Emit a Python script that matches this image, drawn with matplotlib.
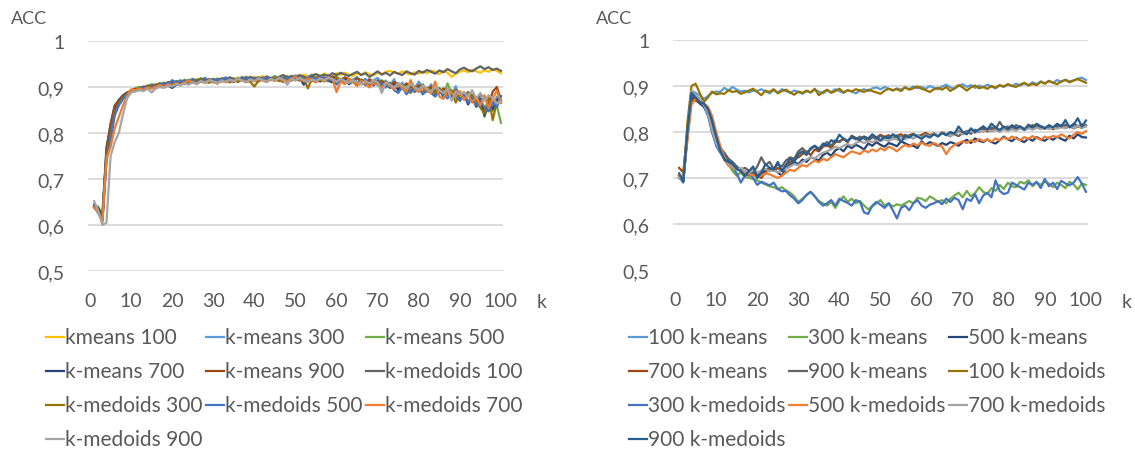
import matplotlib
matplotlib.use("Agg")
import matplotlib.pyplot as plt
from matplotlib.lines import Line2D
from matplotlib.ticker import FuncFormatter

plt.rcParams['font.family'] = ['Lato', 'DejaVu Sans']

k = list(range(1, 101))

# ---- left chart ----
left_labels = ["kmeans 100", "k-means 300", "k-means 500", "k-means 700", "k-means 900",
               "k-medoids 100", "k-medoids 300", "k-medoids 500", "k-medoids 700", "k-medoids 900"]
left_colors = ["#FFC000", "#5B9BD5", "#70AD47", "#264478", "#9E480E",
               "#636363", "#997300", "#4472C4", "#ED7D31", "#A5A5A5"]

kmeans_100 = [
    0.645, 0.632, 0.612, 0.760, 0.805, 0.850, 0.868, 0.880, 0.888, 0.893,
    0.896, 0.899, 0.897, 0.903, 0.901, 0.906, 0.904, 0.910, 0.907, 0.911,
    0.909, 0.913, 0.910, 0.916, 0.912, 0.918, 0.914, 0.908, 0.917, 0.913,
    0.919, 0.915, 0.912, 0.920, 0.916, 0.921, 0.917, 0.923, 0.918, 0.922,
    0.919, 0.924, 0.920, 0.917, 0.923, 0.921, 0.926, 0.922, 0.919, 0.925,
    0.922, 0.927, 0.924, 0.921, 0.928, 0.924, 0.929, 0.925, 0.922, 0.930,
    0.926, 0.931, 0.927, 0.924, 0.930, 0.926, 0.932, 0.928, 0.925, 0.931,
    0.928, 0.933, 0.935, 0.931, 0.929, 0.934, 0.930, 0.927, 0.932, 0.929,
    0.934, 0.930, 0.936, 0.933, 0.928, 0.935, 0.931, 0.922, 0.929, 0.933,
    0.936, 0.932, 0.938, 0.934, 0.931, 0.937, 0.933, 0.939, 0.935, 0.930]
kmeans_300 = [
    0.640, 0.625, 0.610, 0.745, 0.790, 0.845, 0.865, 0.875, 0.885, 0.893,
    0.895, 0.897, 0.900, 0.898, 0.902, 0.905, 0.903, 0.908, 0.905, 0.912,
    0.910, 0.915, 0.908, 0.914, 0.918, 0.912, 0.916, 0.920, 0.914, 0.918,
    0.912, 0.917, 0.921, 0.915, 0.919, 0.914, 0.922, 0.918, 0.913, 0.920,
    0.916, 0.921, 0.915, 0.919, 0.924, 0.917, 0.913, 0.922, 0.918, 0.925,
    0.919, 0.914, 0.922, 0.927, 0.916, 0.921, 0.913, 0.925, 0.918, 0.922,
    0.914, 0.920, 0.908, 0.916, 0.922, 0.911, 0.918, 0.906, 0.915, 0.920,
    0.908, 0.914, 0.902, 0.917, 0.894, 0.910, 0.887, 0.905, 0.896, 0.912,
    0.899, 0.891, 0.906, 0.884, 0.898, 0.877, 0.893, 0.881, 0.902, 0.872,
    0.889, 0.866, 0.884, 0.859, 0.877, 0.848, 0.871, 0.856, 0.879, 0.868]
kmeans_500 = [
    0.642, 0.640, 0.618, 0.770, 0.815, 0.852, 0.868, 0.879, 0.887, 0.892,
    0.897, 0.900, 0.898, 0.903, 0.906, 0.904, 0.909, 0.906, 0.911, 0.909,
    0.913, 0.910, 0.916, 0.912, 0.909, 0.915, 0.919, 0.913, 0.917, 0.912,
    0.918, 0.914, 0.920, 0.916, 0.912, 0.919, 0.915, 0.921, 0.917, 0.913,
    0.920, 0.916, 0.911, 0.918, 0.922, 0.915, 0.919, 0.924, 0.917, 0.921,
    0.916, 0.923, 0.918, 0.913, 0.920, 0.925, 0.917, 0.912, 0.919, 0.923,
    0.915, 0.909, 0.918, 0.912, 0.905, 0.916, 0.910, 0.902, 0.913, 0.907,
    0.915, 0.903, 0.910, 0.898, 0.908, 0.895, 0.905, 0.891, 0.901, 0.896,
    0.906, 0.892, 0.900, 0.887, 0.896, 0.882, 0.908, 0.885, 0.894, 0.873,
    0.888, 0.865, 0.881, 0.858, 0.872, 0.835, 0.866, 0.848, 0.860, 0.822]
kmeans_700 = [
    0.640, 0.636, 0.620, 0.765, 0.820, 0.858, 0.872, 0.882, 0.888, 0.890,
    0.893, 0.896, 0.899, 0.897, 0.901, 0.904, 0.900, 0.906, 0.903, 0.898,
    0.905, 0.910, 0.907, 0.912, 0.909, 0.914, 0.911, 0.916, 0.913, 0.910,
    0.915, 0.912, 0.917, 0.914, 0.911, 0.918, 0.915, 0.920, 0.916, 0.913,
    0.919, 0.915, 0.921, 0.917, 0.914, 0.920, 0.916, 0.922, 0.918, 0.915,
    0.921, 0.905, 0.918, 0.923, 0.916, 0.912, 0.920, 0.914, 0.910, 0.917,
    0.911, 0.918, 0.906, 0.913, 0.909, 0.916, 0.904, 0.912, 0.908, 0.914,
    0.903, 0.911, 0.898, 0.907, 0.893, 0.904, 0.896, 0.889, 0.900, 0.893,
    0.903, 0.890, 0.898, 0.884, 0.894, 0.880, 0.891, 0.876, 0.889, 0.870,
    0.885, 0.862, 0.880, 0.857, 0.874, 0.838, 0.865, 0.852, 0.871, 0.880]
kmeans_900 = [
    0.642, 0.634, 0.612, 0.760, 0.818, 0.860, 0.870, 0.880, 0.887, 0.892,
    0.896, 0.894, 0.899, 0.902, 0.900, 0.905, 0.903, 0.908, 0.905, 0.910,
    0.907, 0.912, 0.909, 0.914, 0.911, 0.908, 0.915, 0.912, 0.917, 0.913,
    0.910, 0.916, 0.913, 0.918, 0.915, 0.911, 0.917, 0.914, 0.919, 0.916,
    0.912, 0.918, 0.915, 0.920, 0.917, 0.913, 0.919, 0.916, 0.921, 0.918,
    0.914, 0.920, 0.917, 0.922, 0.918, 0.915, 0.921, 0.917, 0.923, 0.919,
    0.915, 0.921, 0.917, 0.912, 0.919, 0.914, 0.909, 0.917, 0.911, 0.906,
    0.913, 0.908, 0.903, 0.911, 0.905, 0.899, 0.908, 0.901, 0.895, 0.904,
    0.898, 0.892, 0.901, 0.894, 0.887, 0.897, 0.890, 0.883, 0.893, 0.886,
    0.878, 0.889, 0.881, 0.870, 0.884, 0.875, 0.862, 0.890, 0.900, 0.870]
kmedoids_100 = [
    0.638, 0.628, 0.615, 0.750, 0.800, 0.848, 0.866, 0.878, 0.886, 0.891,
    0.894, 0.898, 0.901, 0.899, 0.904, 0.902, 0.907, 0.905, 0.910, 0.908,
    0.912, 0.909, 0.914, 0.911, 0.916, 0.913, 0.918, 0.915, 0.911, 0.917,
    0.914, 0.919, 0.916, 0.921, 0.917, 0.914, 0.920, 0.917, 0.922, 0.918,
    0.921, 0.917, 0.923, 0.919, 0.916, 0.922, 0.926, 0.920, 0.924, 0.921,
    0.926, 0.922, 0.919, 0.925, 0.928, 0.923, 0.927, 0.924, 0.930, 0.926,
    0.931, 0.927, 0.924, 0.929, 0.933, 0.926, 0.930, 0.922, 0.928, 0.934,
    0.927, 0.931, 0.925, 0.933, 0.929, 0.926, 0.934, 0.930, 0.927, 0.935,
    0.931, 0.937, 0.933, 0.929, 0.936, 0.932, 0.939, 0.934, 0.930, 0.938,
    0.942, 0.937, 0.934, 0.940, 0.945, 0.939, 0.943, 0.937, 0.940, 0.935]
kmedoids_300 = [
    0.640, 0.630, 0.608, 0.748, 0.792, 0.842, 0.862, 0.876, 0.885, 0.890,
    0.893, 0.896, 0.894, 0.899, 0.902, 0.899, 0.904, 0.902, 0.907, 0.904,
    0.909, 0.906, 0.911, 0.908, 0.913, 0.910, 0.915, 0.912, 0.909, 0.914,
    0.911, 0.916, 0.913, 0.910, 0.915, 0.912, 0.917, 0.914, 0.911, 0.901,
    0.914, 0.918, 0.913, 0.916, 0.920, 0.915, 0.911, 0.918, 0.914, 0.919,
    0.915, 0.920, 0.897, 0.917, 0.921, 0.916, 0.912, 0.919, 0.915, 0.920,
    0.914, 0.909, 0.917, 0.912, 0.907, 0.915, 0.910, 0.904, 0.913, 0.908,
    0.902, 0.911, 0.906, 0.899, 0.908, 0.903, 0.896, 0.887, 0.901, 0.895,
    0.889, 0.899, 0.893, 0.885, 0.897, 0.890, 0.882, 0.893, 0.866, 0.887,
    0.876, 0.888, 0.880, 0.869, 0.855, 0.842, 0.878, 0.828, 0.867, 0.872]
kmedoids_500 = [
    0.645, 0.628, 0.610, 0.740, 0.785, 0.838, 0.860, 0.873, 0.884, 0.889,
    0.892, 0.895, 0.898, 0.896, 0.901, 0.899, 0.904, 0.909, 0.906, 0.915,
    0.908, 0.913, 0.910, 0.915, 0.912, 0.909, 0.914, 0.911, 0.916, 0.913,
    0.917, 0.914, 0.920, 0.915, 0.912, 0.918, 0.915, 0.921, 0.917, 0.914,
    0.919, 0.916, 0.921, 0.918, 0.914, 0.920, 0.917, 0.922, 0.918, 0.915,
    0.921, 0.917, 0.913, 0.920, 0.916, 0.922, 0.918, 0.914, 0.920, 0.905,
    0.918, 0.913, 0.909, 0.916, 0.911, 0.906, 0.914, 0.908, 0.903, 0.911,
    0.905, 0.899, 0.908, 0.893, 0.887, 0.900, 0.884, 0.895, 0.889, 0.898,
    0.884, 0.893, 0.887, 0.879, 0.891, 0.883, 0.875, 0.888, 0.880, 0.871,
    0.884, 0.866, 0.876, 0.860, 0.871, 0.855, 0.847, 0.868, 0.856, 0.880]
kmedoids_700 = [
    0.638, 0.628, 0.606, 0.745, 0.770, 0.810, 0.835, 0.860, 0.880, 0.895,
    0.893, 0.897, 0.894, 0.899, 0.896, 0.901, 0.904, 0.900, 0.906, 0.903,
    0.908, 0.905, 0.910, 0.914, 0.910, 0.906, 0.913, 0.909, 0.915, 0.911,
    0.907, 0.914, 0.910, 0.916, 0.912, 0.918, 0.914, 0.910, 0.916, 0.912,
    0.918, 0.914, 0.911, 0.917, 0.913, 0.919, 0.915, 0.912, 0.918, 0.922,
    0.917, 0.913, 0.919, 0.914, 0.910, 0.918, 0.913, 0.920, 0.916, 0.889,
    0.912, 0.906, 0.918, 0.910, 0.902, 0.913, 0.907, 0.899, 0.910, 0.904,
    0.898, 0.910, 0.902, 0.895, 0.906, 0.898, 0.890, 0.915, 0.897, 0.889,
    0.900, 0.893, 0.886, 0.912, 0.879, 0.874, 0.895, 0.887, 0.880, 0.891,
    0.872, 0.884, 0.866, 0.878, 0.860, 0.882, 0.854, 0.875, 0.892, 0.865]
kmedoids_900 = [
    0.652, 0.630, 0.600, 0.605, 0.750, 0.780, 0.800, 0.840, 0.875, 0.888,
    0.890, 0.893, 0.891, 0.896, 0.888, 0.897, 0.900, 0.898, 0.903, 0.901,
    0.906, 0.903, 0.908, 0.905, 0.910, 0.907, 0.913, 0.909, 0.915, 0.912,
    0.909, 0.914, 0.911, 0.916, 0.913, 0.918, 0.914, 0.911, 0.917, 0.913,
    0.919, 0.915, 0.912, 0.918, 0.914, 0.920, 0.916, 0.905, 0.918, 0.914,
    0.920, 0.915, 0.911, 0.917, 0.913, 0.919, 0.915, 0.921, 0.917, 0.912,
    0.918, 0.913, 0.909, 0.915, 0.910, 0.906, 0.913, 0.908, 0.915, 0.911,
    0.887, 0.910, 0.905, 0.899, 0.908, 0.903, 0.897, 0.906, 0.899, 0.894,
    0.903, 0.896, 0.890, 0.899, 0.893, 0.887, 0.896, 0.870, 0.891, 0.884,
    0.888, 0.880, 0.893, 0.875, 0.887, 0.870, 0.882, 0.876, 0.864, 0.870]

left_series = [kmeans_100, kmeans_300, kmeans_500, kmeans_700, kmeans_900,
               kmedoids_100, kmedoids_300, kmedoids_500, kmedoids_700, kmedoids_900]

# ---- right chart ----
right_labels = ["100 k-means", "300 k-means", "500 k-means", "700 k-means", "900 k-means",
                "100 k-medoids", "300 k-medoids", "500 k-medoids", "700 k-medoids", "900 k-medoids"]
right_colors = ["#5B9BD5", "#70AD47", "#264478", "#9E480E", "#636363",
                "#997300", "#4472C4", "#ED7D31", "#A5A5A5", "#255E91"]

r_kmeans_100 = [
    0.700, 0.695, 0.800, 0.890, 0.885, 0.880, 0.872, 0.878, 0.885, 0.888,
    0.887, 0.896, 0.890, 0.898, 0.892, 0.888, 0.890, 0.886, 0.890, 0.889,
    0.893, 0.888, 0.884, 0.891, 0.886, 0.893, 0.889, 0.885, 0.890, 0.887,
    0.883, 0.889, 0.886, 0.892, 0.888, 0.884, 0.890, 0.887, 0.893, 0.889,
    0.885, 0.891, 0.888, 0.884, 0.890, 0.893, 0.889, 0.895, 0.897, 0.893,
    0.898, 0.894, 0.890, 0.895, 0.892, 0.897, 0.893, 0.899, 0.895, 0.898,
    0.894, 0.900, 0.896, 0.893, 0.899, 0.903, 0.897, 0.894, 0.900, 0.904,
    0.898, 0.902, 0.896, 0.901, 0.897, 0.903, 0.899, 0.895, 0.901, 0.898,
    0.903, 0.900, 0.905, 0.901, 0.906, 0.902, 0.908, 0.904, 0.910, 0.906,
    0.911, 0.907, 0.913, 0.909, 0.914, 0.910, 0.912, 0.916, 0.918, 0.913]
r_kmeans_300 = [
    0.700, 0.692, 0.790, 0.870, 0.880, 0.870, 0.855, 0.840, 0.810, 0.780,
    0.760, 0.745, 0.730, 0.715, 0.705, 0.712, 0.702, 0.700, 0.698, 0.695,
    0.690, 0.686, 0.682, 0.680, 0.676, 0.680, 0.673, 0.668, 0.660, 0.648,
    0.655, 0.662, 0.670, 0.660, 0.650, 0.645, 0.640, 0.648, 0.635, 0.650,
    0.660, 0.648, 0.655, 0.645, 0.650, 0.640, 0.632, 0.638, 0.645, 0.652,
    0.640, 0.645, 0.638, 0.643, 0.640, 0.645, 0.650, 0.645, 0.657, 0.655,
    0.650, 0.660, 0.655, 0.648, 0.652, 0.645, 0.655, 0.662, 0.668, 0.658,
    0.672, 0.660, 0.667, 0.680, 0.670, 0.665, 0.678, 0.672, 0.685, 0.676,
    0.690, 0.682, 0.680, 0.692, 0.688, 0.695, 0.682, 0.690, 0.685, 0.692,
    0.688, 0.680, 0.690, 0.685, 0.678, 0.692, 0.686, 0.675, 0.688, 0.685]
r_kmeans_500 = [
    0.705, 0.695, 0.790, 0.875, 0.870, 0.862, 0.855, 0.838, 0.810, 0.782,
    0.765, 0.752, 0.740, 0.728, 0.720, 0.715, 0.708, 0.712, 0.718, 0.706,
    0.710, 0.716, 0.722, 0.718, 0.712, 0.705, 0.722, 0.728, 0.735, 0.730,
    0.740, 0.735, 0.745, 0.742, 0.738, 0.750, 0.755, 0.748, 0.760, 0.765,
    0.758, 0.770, 0.765, 0.772, 0.768, 0.762, 0.775, 0.770, 0.778, 0.772,
    0.768, 0.776, 0.773, 0.769, 0.780, 0.775, 0.771, 0.770, 0.765, 0.780,
    0.772, 0.778, 0.774, 0.770, 0.776, 0.772, 0.778, 0.775, 0.770, 0.778,
    0.783, 0.776, 0.786, 0.781, 0.778, 0.784, 0.778, 0.775, 0.782, 0.790,
    0.784, 0.780, 0.788, 0.782, 0.778, 0.786, 0.781, 0.789, 0.784, 0.781,
    0.788, 0.783, 0.790, 0.785, 0.781, 0.792, 0.786, 0.795, 0.789, 0.788]
r_kmeans_700 = [
    0.722, 0.712, 0.800, 0.870, 0.868, 0.865, 0.860, 0.850, 0.820, 0.790,
    0.760, 0.740, 0.728, 0.722, 0.725, 0.715, 0.710, 0.705, 0.712, 0.706,
    0.700, 0.712, 0.720, 0.716, 0.722, 0.715, 0.728, 0.734, 0.740, 0.745,
    0.752, 0.758, 0.750, 0.762, 0.758, 0.768, 0.772, 0.765, 0.778, 0.780,
    0.785, 0.778, 0.792, 0.787, 0.784, 0.790, 0.786, 0.792, 0.788, 0.794,
    0.789, 0.793, 0.785, 0.792, 0.795, 0.788, 0.793, 0.796, 0.790, 0.794,
    0.798, 0.793, 0.797, 0.792, 0.799, 0.795, 0.791, 0.798, 0.802, 0.796,
    0.800, 0.805, 0.799, 0.803, 0.807, 0.801, 0.806, 0.810, 0.804, 0.809,
    0.805, 0.811, 0.807, 0.812, 0.806, 0.810, 0.815, 0.809, 0.813, 0.808,
    0.812, 0.806, 0.811, 0.815, 0.809, 0.813, 0.808, 0.812, 0.816, 0.813]
r_kmeans_900 = [
    0.700, 0.705, 0.795, 0.880, 0.875, 0.868, 0.858, 0.845, 0.800, 0.780,
    0.765, 0.755, 0.742, 0.735, 0.725, 0.718, 0.722, 0.716, 0.710, 0.725,
    0.745, 0.728, 0.735, 0.720, 0.730, 0.725, 0.738, 0.745, 0.742, 0.758,
    0.765, 0.755, 0.762, 0.770, 0.764, 0.772, 0.778, 0.770, 0.782, 0.778,
    0.786, 0.780, 0.788, 0.784, 0.790, 0.786, 0.780, 0.789, 0.784, 0.792,
    0.786, 0.790, 0.787, 0.792, 0.788, 0.794, 0.790, 0.786, 0.793, 0.789,
    0.795, 0.790, 0.796, 0.792, 0.798, 0.794, 0.799, 0.795, 0.791, 0.798,
    0.802, 0.796, 0.805, 0.800, 0.812, 0.804, 0.810, 0.806, 0.822, 0.808,
    0.812, 0.806, 0.815, 0.810, 0.806, 0.813, 0.809, 0.815, 0.811, 0.807,
    0.812, 0.808, 0.814, 0.810, 0.816, 0.811, 0.818, 0.813, 0.809, 0.815]
r_kmedoids_100 = [
    0.705, 0.698, 0.820, 0.900, 0.905, 0.885, 0.865, 0.875, 0.888, 0.882,
    0.884, 0.883, 0.891, 0.887, 0.889, 0.883, 0.886, 0.890, 0.894, 0.887,
    0.880, 0.890, 0.887, 0.893, 0.884, 0.889, 0.892, 0.886, 0.881, 0.888,
    0.885, 0.890, 0.886, 0.894, 0.880, 0.887, 0.892, 0.885, 0.889, 0.894,
    0.886, 0.891, 0.888, 0.893, 0.890, 0.887, 0.892, 0.889, 0.886, 0.883,
    0.890, 0.894, 0.891, 0.893, 0.889, 0.897, 0.892, 0.895, 0.899, 0.894,
    0.891, 0.887, 0.893, 0.896, 0.892, 0.898, 0.889, 0.895, 0.902, 0.897,
    0.890, 0.897, 0.901, 0.895, 0.898, 0.894, 0.900, 0.896, 0.902, 0.899,
    0.904, 0.900, 0.898, 0.903, 0.907, 0.901, 0.905, 0.902, 0.909, 0.905,
    0.911, 0.907, 0.904, 0.910, 0.913, 0.908, 0.912, 0.915, 0.911, 0.907]
r_kmedoids_300 = [
    0.705, 0.690, 0.800, 0.885, 0.878, 0.868, 0.858, 0.835, 0.800, 0.770,
    0.755, 0.742, 0.735, 0.725, 0.710, 0.690, 0.705, 0.710, 0.700, 0.685,
    0.692, 0.688, 0.684, 0.690, 0.676, 0.671, 0.672, 0.662, 0.655, 0.645,
    0.652, 0.664, 0.670, 0.660, 0.648, 0.640, 0.645, 0.652, 0.640, 0.655,
    0.650, 0.646, 0.640, 0.652, 0.648, 0.625, 0.622, 0.640, 0.648, 0.642,
    0.635, 0.645, 0.630, 0.612, 0.635, 0.640, 0.630, 0.645, 0.652, 0.640,
    0.635, 0.642, 0.645, 0.650, 0.643, 0.655, 0.648, 0.657, 0.652, 0.632,
    0.655, 0.650, 0.665, 0.645, 0.662, 0.668, 0.658, 0.695, 0.672, 0.665,
    0.668, 0.690, 0.685, 0.680, 0.675, 0.690, 0.685, 0.692, 0.678, 0.698,
    0.682, 0.690, 0.676, 0.694, 0.688, 0.684, 0.690, 0.702, 0.688, 0.670]
r_kmedoids_500 = [
    0.705, 0.700, 0.780, 0.860, 0.872, 0.870, 0.862, 0.855, 0.835, 0.800,
    0.770, 0.745, 0.728, 0.722, 0.720, 0.715, 0.712, 0.708, 0.706, 0.702,
    0.705, 0.710, 0.708, 0.704, 0.700, 0.705, 0.712, 0.718, 0.715, 0.722,
    0.728, 0.725, 0.732, 0.738, 0.734, 0.742, 0.738, 0.745, 0.752, 0.748,
    0.745, 0.752, 0.758, 0.755, 0.752, 0.760, 0.756, 0.762, 0.758, 0.765,
    0.760, 0.768, 0.764, 0.758, 0.766, 0.772, 0.768, 0.775, 0.771, 0.777,
    0.772, 0.770, 0.776, 0.772, 0.768, 0.752, 0.765, 0.772, 0.776, 0.780,
    0.776, 0.782, 0.778, 0.785, 0.780, 0.784, 0.779, 0.786, 0.782, 0.788,
    0.784, 0.790, 0.786, 0.782, 0.789, 0.785, 0.791, 0.787, 0.783, 0.790,
    0.786, 0.792, 0.788, 0.795, 0.790, 0.786, 0.794, 0.800, 0.796, 0.802]
r_kmedoids_700 = [
    0.700, 0.698, 0.795, 0.890, 0.880, 0.872, 0.860, 0.840, 0.805, 0.775,
    0.760, 0.740, 0.732, 0.725, 0.718, 0.722, 0.715, 0.710, 0.718, 0.712,
    0.716, 0.720, 0.714, 0.718, 0.712, 0.716, 0.720, 0.725, 0.730, 0.728,
    0.735, 0.740, 0.745, 0.742, 0.750, 0.755, 0.758, 0.762, 0.768, 0.765,
    0.770, 0.774, 0.770, 0.776, 0.780, 0.776, 0.780, 0.778, 0.782, 0.780,
    0.784, 0.780, 0.786, 0.783, 0.788, 0.784, 0.790, 0.786, 0.792, 0.788,
    0.794, 0.790, 0.796, 0.792, 0.798, 0.794, 0.790, 0.796, 0.800, 0.795,
    0.798, 0.802, 0.798, 0.803, 0.800, 0.805, 0.801, 0.804, 0.800, 0.806,
    0.802, 0.806, 0.803, 0.808, 0.804, 0.808, 0.805, 0.809, 0.806, 0.810,
    0.806, 0.810, 0.807, 0.811, 0.808, 0.812, 0.809, 0.813, 0.810, 0.812]
r_kmedoids_900 = [
    0.710, 0.692, 0.800, 0.885, 0.875, 0.865, 0.862, 0.850, 0.825, 0.790,
    0.760, 0.740, 0.735, 0.730, 0.720, 0.715, 0.705, 0.715, 0.725, 0.700,
    0.712, 0.730, 0.722, 0.718, 0.735, 0.715, 0.728, 0.742, 0.735, 0.752,
    0.758, 0.750, 0.765, 0.770, 0.760, 0.775, 0.770, 0.782, 0.778, 0.794,
    0.785, 0.780, 0.790, 0.786, 0.782, 0.790, 0.785, 0.795, 0.788, 0.782,
    0.790, 0.786, 0.795, 0.790, 0.778, 0.792, 0.788, 0.795, 0.790, 0.785,
    0.792, 0.788, 0.795, 0.790, 0.798, 0.793, 0.800, 0.796, 0.812, 0.800,
    0.795, 0.808, 0.800, 0.806, 0.812, 0.805, 0.818, 0.810, 0.804, 0.812,
    0.806, 0.815, 0.808, 0.812, 0.805, 0.816, 0.810, 0.818, 0.812, 0.808,
    0.815, 0.810, 0.818, 0.812, 0.826, 0.810, 0.815, 0.830, 0.812, 0.825]

right_series = [r_kmeans_100, r_kmeans_300, r_kmeans_500, r_kmeans_700, r_kmeans_900,
                r_kmedoids_100, r_kmedoids_300, r_kmedoids_500, r_kmedoids_700, r_kmedoids_900]

y_ticks = [0.5, 0.6, 0.7, 0.8, 0.9, 1.0]
x_ticks = list(range(0, 101, 10))

TXT = "#595959"
GRID = "#D9D9D9"
W, H = 1135, 452

fig = plt.figure(figsize=(W / 100, H / 100), dpi=100)


def comma(v, pos):
    return f"{v:g}".replace(".", ",")


def setup(ax, grid_from):
    ax.set_xlim(-0.5, 100.5)
    ax.set_ylim(0.5, 1.0)
    for s in ax.spines.values():
        s.set_visible(False)
    for y in y_ticks:
        if y >= grid_from:
            ax.axhline(y, color=GRID, lw=1.3, zorder=0)
    ax.set_yticks(y_ticks)
    ax.set_xticks(x_ticks)
    ax.yaxis.set_major_formatter(FuncFormatter(comma))
    ax.tick_params(axis="both", length=0, labelsize=14, labelcolor=TXT)
    ax.tick_params(axis="y", pad=17)
    ax.tick_params(axis="x", pad=15)


def legend(labels, colors, x0):
    # Excel style legend: rows filled first, equal column widths
    rows_y = [338, 372, 406, 440]
    for i, (lab, col) in enumerate(zip(labels, colors)):
        x = x0 + (i % 3) * 160
        y = 1 - rows_y[i // 3] / H
        fig.add_artist(Line2D([x / W, (x + 18) / W], [y, y], transform=fig.transFigure,
                              color=col, lw=1.6))
        fig.text((x + 19) / W, y, lab, fontsize=15, color=TXT, va="center", ha="left")


ax1 = fig.add_axes([88 / W, 1 - 272 / H, 415 / W, 230 / H])
setup(ax1, 0.5)
for vals, lab, col in zip(left_series, left_labels, left_colors):
    ax1.plot(k, vals, color=col, lw=1.6, label=lab)

ax2 = fig.add_axes([673 / W, 1 - 271 / H, 415 / W, 230 / H])
setup(ax2, 0.6)
for vals, lab, col in zip(right_series, right_labels, right_colors):
    ax2.plot(k, vals, color=col, lw=1.6, label=lab)

legend(left_labels, left_colors, 46)
legend(right_labels, right_colors, 629)

fig.text(11 / W, 1 - 19 / H, "ACC", fontsize=13, color=TXT, va="center", ha="left")
fig.text(596 / W, 1 - 19 / H, "ACC", fontsize=13, color=TXT, va="center", ha="left")
fig.text(542 / W, 1 - 302 / H, "k", fontsize=14, color=TXT, va="center", ha="center")
fig.text(1127 / W, 1 - 302 / H, "k", fontsize=14, color=TXT, va="center", ha="center")

fig.savefig("out.png", dpi=100)
